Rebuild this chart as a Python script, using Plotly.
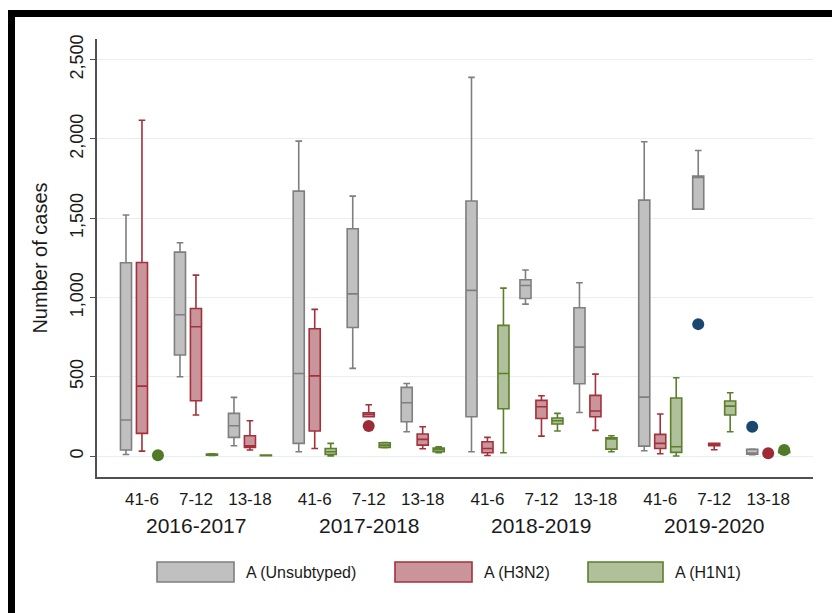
import plotly.graph_objects as go

# ---------------- data ----------------
seasons = ["2016-2017", "2017-2018", "2018-2019", "2019-2020"]
weeks = ["41-6", "7-12", "13-18"]
series_names = ["A (Unsubtyped)", "A (H3N2)", "A (H1N1)"]

# box statistics per category (season x week), None = no box drawn
unsub_lo  = [10, 500, 65,   27, 553, 153,   27, 958, 275,   34, 1557, 8]
unsub_q1  = [38, 637, 118,  80, 811, 216,   248, 994, 456,  63, 1557, 12]
unsub_med = [227, 891, 191, 521, 1023, 336, 1045, 1076, 687, 372, 1757, 15]
unsub_q3  = [1219, 1286, 269, 1671, 1433, 433, 1608, 1112, 935, 1614, 1765, 42]
unsub_hi  = [1520, 1345, 370, 1986, 1639, 458, 2388, 1173, 1093, 1982, 1927, 44]

h3n2_lo  = [31, 259, 38,    48, 248, 46,   4, 126, 162,    15, 40, None]
h3n2_q1  = [143, 349, 55,   158, 248, 69,  21, 237, 248,   48, 65, None]
h3n2_med = [441, 815, 65,   506, 262, 105, 48, 311, 284,   80, 72, None]
h3n2_q3  = [1221, 931, 128, 803, 273, 139, 90, 351, 383,   137, 80, None]
h3n2_hi  = [2118, 1141, 223, 925, 324, 185, 118, 380, 517, 265, 80, None]

h1n1_lo  = [None, 4, 2,   0, 52, 21,   21, 158, 27,    0, 153, 20]
h1n1_q1  = [None, 6, 3,   10, 55, 27,  298, 202, 44,   23, 259, 22]
h1n1_med = [None, 9, 5,   27, 69, 40,  521, 223, 108,  59, 315, 25]
h1n1_q3  = [None, 12, 6,  48, 84, 50,  824, 240, 115,  366, 347, 30]
h1n1_hi  = [None, 14, 7,  80, 86, 59,  1059, 269, 128, 494, 399, 32]

# outside values / single points: (category index, value)
unsub_points = [(10, 832), (11, 185)]
h3n2_points = [(4, 189), (11, 18)]
h1n1_points = [(0, 5), (11, 38)]

y_tick_vals = [0, 500, 1000, 1500, 2000, 2500]
y_tick_text = ["0", "500", "1,000", "1,500", "2,000", "2,500"]

# ---------------- styling ----------------
FONT = "Liberation Sans, Arial, sans-serif"
W, H = 840, 613
PAGE_OFF = 8  # default body margin of the html page
# plot area in screen pixels
SX0, SX1, SY0, SY1 = 97, 813, 39, 477
ML = SX0 - PAGE_OFF
MT = SY0 - PAGE_OFF
PW, PH = SX1 - SX0, SY1 - SY0
MR = W - ML - PW
MB = H - MT - PH

fills = ["#c0c0c0", "#ca959a", "#b0c09a"]
lines = ["#7f7f7f", "#a3303b", "#5b7f2b"]
dots = ["#1a476f", "#9c2b36", "#4f7a27"]

GROUP_GAP = 3.2
SERIES_OFF = 0.296
BOX_W = 0.205

cat_pos = [g * GROUP_GAP + s for g in range(len(seasons)) for s in range(len(weeks))]
tick_text = [w for _ in seasons for w in weeks]

stats = [
    (unsub_lo, unsub_q1, unsub_med, unsub_q3, unsub_hi, unsub_points),
    (h3n2_lo, h3n2_q1, h3n2_med, h3n2_q3, h3n2_hi, h3n2_points),
    (h1n1_lo, h1n1_q1, h1n1_med, h1n1_q3, h1n1_hi, h1n1_points),
]

fig = go.Figure()
for k, (lo, q1, med, q3, hi, pts) in enumerate(stats):
    off = (k - 1) * SERIES_OFF
    idx = [i for i in range(len(cat_pos)) if q1[i] is not None]
    fig.add_trace(go.Box(
        x=[cat_pos[i] + off for i in idx],
        lowerfence=[lo[i] for i in idx],
        q1=[q1[i] for i in idx],
        median=[med[i] for i in idx],
        q3=[q3[i] for i in idx],
        upperfence=[hi[i] for i in idx],
        width=BOX_W,
        whiskerwidth=0.6,
        boxpoints=False,
        fillcolor=fills[k],
        line=dict(color=lines[k], width=1.6),
        name=series_names[k],
        showlegend=False,
    ))
    fig.add_trace(go.Scatter(
        x=[cat_pos[i] + off for i, _ in pts],
        y=[v for _, v in pts],
        mode="markers",
        marker=dict(color=dots[k], size=12),
        showlegend=False,
        hoverinfo="y",
    ))


def px_x(sx):
    """screen x pixel -> paper coordinate"""
    return (sx - SX0) / PW


def px_y(sy):
    """screen y pixel -> paper coordinate"""
    return (SY1 - sy) / PH


shapes = []
annotations = []

# season labels under the week labels
for g, s in enumerate(seasons):
    annotations.append(dict(
        x=g * GROUP_GAP + 1, xref="x", y=px_y(525), yref="paper",
        text=s, showarrow=False, xanchor="center", yanchor="middle",
        font=dict(family=FONT, size=21, color="#1a1a1a"),
    ))

# custom legend (wide rectangular keys)
legend_keys = [(157, 234), (395, 472), (588, 663)]
for k, (a, b) in enumerate(legend_keys):
    shapes.append(dict(
        type="rect", xref="paper", yref="paper",
        x0=px_x(a), x1=px_x(b), y0=px_y(582), y1=px_y(562),
        fillcolor=fills[k], line=dict(color=lines[k], width=1.6),
    ))
    annotations.append(dict(
        x=px_x(b + 10), xref="paper", y=px_y(572), yref="paper",
        text=series_names[k], showarrow=False, xanchor="left", yanchor="middle",
        font=dict(family=FONT, size=16, color="#1a1a1a"),
    ))

# outer black frame
shapes.append(dict(
    type="rect", xref="paper", yref="paper",
    x0=px_x(11.5), x1=px_x(838.5), y0=px_y(700), y1=px_y(13.5),
    line=dict(color="black", width=7), fillcolor="rgba(0,0,0,0)", layer="above",
))

fig.update_layout(
    width=W, height=H,
    margin=dict(l=ML, r=MR, t=MT, b=MB, autoexpand=False),
    paper_bgcolor="white", plot_bgcolor="white",
    font=dict(family=FONT, color="#1a1a1a"),
    boxmode="overlay",
    shapes=shapes,
    annotations=annotations,
    showlegend=False,
    xaxis=dict(
        range=[-0.833, 12.43],
        automargin=False,
        tickmode="array", tickvals=cat_pos, ticktext=tick_text,
        showgrid=False, zeroline=False,
        showline=True, linecolor="#505050", linewidth=2,
        ticks="outside", ticklen=6, tickcolor="rgba(0,0,0,0)",
        tickfont=dict(family=FONT, size=17, color="#1a1a1a"),
    ),
    yaxis=dict(
        range=[-132, 2630],
        automargin=False,
        tickmode="array", tickvals=y_tick_vals, ticktext=y_tick_text,
        tickangle=-90,
        showgrid=True, gridcolor="#e6eff2", gridwidth=1,
        zeroline=False,
        showline=True, linecolor="#505050", linewidth=2,
        ticks="outside", ticklen=5, tickcolor="#505050", tickwidth=1.2,
        tickfont=dict(family=FONT, size=18, color="#1a1a1a"),
        title=dict(text="Number of cases", font=dict(family=FONT, size=20, color="#1a1a1a"), standoff=14),
    ),
)

fig.write_html("out.html")
